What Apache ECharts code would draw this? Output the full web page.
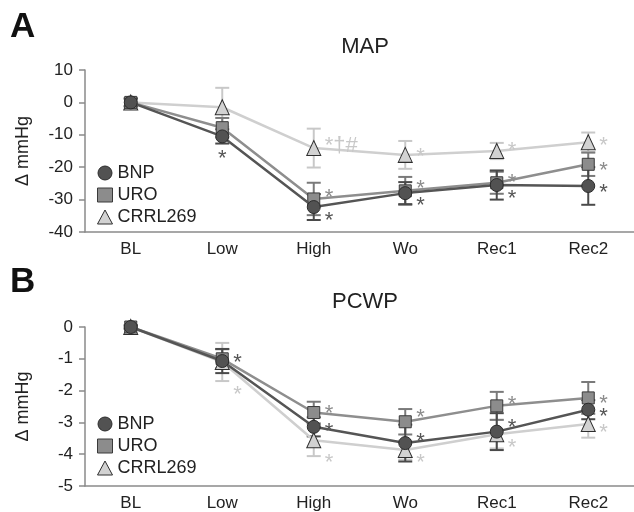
<!DOCTYPE html>
<html><head><meta charset="utf-8">
<script src="https://cdn.jsdelivr.net/npm/echarts@6/dist/echarts.min.js"></script>
<style>html,body{margin:0;padding:0;background:#fff}#c{width:634px;height:512px}</style>
</head><body><div id="c"></div>
<script>
// ---- data ----
const categories = ['BL', 'Low', 'High', 'Wo', 'Rec1', 'Rec2'];
const seriesNames = ['BNP', 'URO', 'CRRL269'];

const mapBNP     = [0, -10.5, -32.3, -28.0, -25.5, -25.8];
const mapBNPErr  = [1.2, 2.2, 4.0, 3.4, 4.5, 5.8];
const mapURO     = [0, -7.8, -29.8, -27.3, -24.8, -19.1];
const mapUROErr  = [1.2, 3.0, 5.0, 4.3, 3.4, 3.6];
const mapCRRL    = [0, -1.5, -14.1, -16.2, -15.0, -12.3];
const mapCRRLErr = [1.2, 6.0, 6.0, 4.3, 2.5, 3.0];

const pcwpBNP     = [0, -1.07, -3.14, -3.65, -3.29, -2.60];
const pcwpBNPErr  = [0.05, 0.38, 0.30, 0.58, 0.58, 0.30];
const pcwpURO     = [0, -1.00, -2.69, -2.98, -2.48, -2.23];
const pcwpUROErr  = [0.05, 0.30, 0.34, 0.40, 0.44, 0.50];
const pcwpCRRL    = [0, -1.10, -3.56, -3.87, -3.37, -3.05];
const pcwpCRRLErr = [0.05, 0.60, 0.50, 0.30, 0.45, 0.43];

// significance marks: [category index, value level, text, series, side]
const mapMarks = [
  [1, -15.5, '*', 'BNP', 'below'],
  [2, -11.6, '*\u2020#', 'CRRL269', 'right'],
  [2, -27.6, '*', 'URO', 'right'],
  [2, -34.7, '*', 'BNP', 'right'],
  [3, -15.0, '*', 'CRRL269', 'right'],
  [3, -24.8, '*', 'URO', 'right'],
  [3, -30.0, '*', 'BNP', 'right'],
  [4, -13.0, '*', 'CRRL269', 'right'],
  [4, -23.0, '*', 'URO', 'right'],
  [4, -28.0, '*', 'BNP', 'right'],
  [5, -11.7, '*', 'CRRL269', 'right'],
  [5, -19.4, '*', 'URO', 'right'],
  [5, -26.0, '*', 'BNP', 'right']
];
const pcwpMarks = [
  [1, -0.94, '*', 'BNP', 'right'],
  [1, -1.94, '*', 'CRRL269', 'right'],
  [2, -2.53, '*', 'URO', 'right'],
  [2, -3.10, '*', 'BNP', 'right'],
  [2, -4.09, '*', 'CRRL269', 'right'],
  [3, -2.68, '*', 'URO', 'right'],
  [3, -3.43, '*', 'BNP', 'right'],
  [3, -4.09, '*', 'CRRL269', 'right'],
  [4, -2.25, '*', 'URO', 'right'],
  [4, -2.98, '*', 'BNP', 'right'],
  [4, -3.60, '*', 'CRRL269', 'right'],
  [5, -2.23, '*', 'URO', 'right'],
  [5, -2.64, '*', 'BNP', 'right'],
  [5, -3.14, '*', 'CRRL269', 'right']
];

// ---- styles ----
const FONT = '"Liberation Sans", Arial, sans-serif';
const style = {
  BNP:     {line: '#555555', fill: '#525252', border: '#2b2b2b', err: '#4a4a4a', mark: '#555555', symbol: 'circle', size: 13},
  URO:     {line: '#8e8e8e', fill: '#8c8c8c', border: '#3a3a3a', err: '#7a7a7a', mark: '#8c8c8c', symbol: 'rect', size: 12},
  CRRL269: {line: '#cfcfcf', fill: '#d2d2d2', border: '#2e2e2e', err: '#c8c8c8', mark: '#c8c8c8', symbol: 'triangle', size: [14, 15]}
};

const chart = echarts.init(document.getElementById('c'), null, {renderer: 'canvas'});

function lineSeries(name, vals, gi, z) {
  const s = style[name];
  return {
    type: 'line', name, xAxisIndex: gi, yAxisIndex: gi, data: vals, z,
    symbol: s.symbol, symbolSize: s.size, showSymbol: true,
    lineStyle: {color: s.line, width: 2.5},
    itemStyle: {color: s.fill, borderColor: s.border, borderWidth: 1},
    emphasis: {disabled: true}, animation: false
  };
}
function errSeries(name, vals, errs, gi) {
  const s = style[name];
  return {
    type: 'custom', name: name + ' err', xAxisIndex: gi, yAxisIndex: gi, z: 1,
    data: vals.map((v, i) => [i, v - errs[i], v + errs[i]]),
    renderItem(params, api) {
      const x = api.value(0);
      const lo = api.coord([x, api.value(1)]);
      const hi = api.coord([x, api.value(2)]);
      const w = 7;
      const st = {stroke: s.err, lineWidth: 2};
      return {type: 'group', children: [
        {type: 'line', shape: {x1: lo[0], y1: lo[1], x2: hi[0], y2: hi[1]}, style: st},
        {type: 'line', shape: {x1: lo[0] - w, y1: lo[1], x2: lo[0] + w, y2: lo[1]}, style: st},
        {type: 'line', shape: {x1: hi[0] - w, y1: hi[1], x2: hi[0] + w, y2: hi[1]}, style: st}
      ]};
    },
    animation: false, silent: true
  };
}
function markSeries(marks, gi) {
  return {
    type: 'custom', name: 'marks' + gi, xAxisIndex: gi, yAxisIndex: gi, z: 5, silent: true,
    data: marks.map(m => [m[0], m[1]]),
    renderItem(params, api) {
      const m = marks[params.dataIndex];
      const p = api.coord([api.value(0), api.value(1)]);
      const below = m[4] === 'below';
      return {type: 'text', x: below ? p[0] : p[0] + 11, y: p[1] + 6,
        style: {text: m[2], fill: style[m[3]].mark, font: '22px ' + FONT,
          textAlign: below ? 'center' : 'left', textVerticalAlign: 'middle'}};
    },
    animation: false
  };
}

const grids = [
  {left: 85, width: 558, top: 70, height: 162},
  {left: 85, width: 558, top: 327, height: 163}
];
function xAxis(gi) {
  return {type: 'category', gridIndex: gi, data: categories, boundaryGap: true,
    axisLine: {onZero: false, lineStyle: {color: '#8a8a8a', width: 1.5}}, axisTick: {show: false},
    axisLabel: {color: '#222', fontSize: 17, fontFamily: FONT, margin: 9}};
}
function yAxis(gi, min, max, interval) {
  return {type: 'value', gridIndex: gi, min, max, interval,
    name: '\u0394 mmHg', nameLocation: 'middle', nameGap: 53,
    nameTextStyle: {color: '#222', fontSize: 18, fontFamily: FONT},
    axisLine: {show: true, lineStyle: {color: '#8a8a8a', width: 1.5}},
    axisTick: {show: true, length: 6, lineStyle: {color: '#8a8a8a', width: 1.5}},
    axisLabel: {color: '#222', fontSize: 17, fontFamily: FONT, margin: 12},
    splitLine: {show: false}};
}
function legend(top) {
  return {orient: 'vertical', left: 92, top, itemWidth: 15, itemHeight: 14, itemGap: 4,
    textStyle: {fontSize: 18, fontFamily: FONT, color: '#222', lineHeight: 18},
    selectedMode: false,
    data: seriesNames.map(n => ({name: n, icon: style[n].symbol,
      itemStyle: {color: style[n].fill, borderColor: style[n].border, borderWidth: 1}}))};
}

const option = {
  animation: false,
  grid: grids,
  xAxis: [xAxis(0), xAxis(1)],
  yAxis: [yAxis(0, -40, 10, 10), yAxis(1, -5, 0, 1)],
  legend: [legend(159), legend(410)],
  graphic: [
    {type: 'text', left: 10, top: 10, style: {text: 'A', font: 'bold 35px ' + FONT, fill: '#111'}},
    {type: 'text', left: 10, top: 265, style: {text: 'B', font: 'bold 35px ' + FONT, fill: '#111'}},
    {type: 'text', x: 365, y: 47, style: {text: 'MAP', font: '22px ' + FONT, fill: '#222', textAlign: 'center', textVerticalAlign: 'middle'}},
    {type: 'text', x: 365, y: 302, style: {text: 'PCWP', font: '22px ' + FONT, fill: '#222', textAlign: 'center', textVerticalAlign: 'middle'}}
  ],
  series: [
    errSeries('CRRL269', mapCRRL, mapCRRLErr, 0),
    errSeries('URO', mapURO, mapUROErr, 0),
    errSeries('BNP', mapBNP, mapBNPErr, 0),
    lineSeries('CRRL269', mapCRRL, 0, 2),
    lineSeries('URO', mapURO, 0, 3),
    lineSeries('BNP', mapBNP, 0, 4),
    markSeries(mapMarks, 0),
    errSeries('CRRL269', pcwpCRRL, pcwpCRRLErr, 1),
    errSeries('URO', pcwpURO, pcwpUROErr, 1),
    errSeries('BNP', pcwpBNP, pcwpBNPErr, 1),
    lineSeries('CRRL269', pcwpCRRL, 1, 2),
    lineSeries('URO', pcwpURO, 1, 3),
    lineSeries('BNP', pcwpBNP, 1, 4),
    markSeries(pcwpMarks, 1)
  ]
};
chart.setOption(option);
</script></body></html>
